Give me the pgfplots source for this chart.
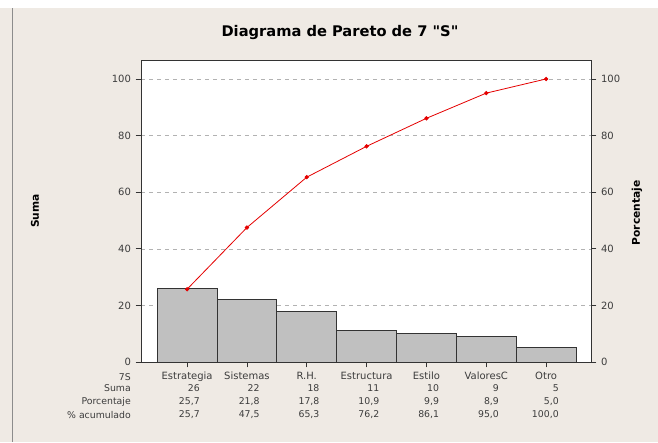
\documentclass[border=0pt]{standalone}
\usepackage{pgfplots}
\pgfplotsset{compat=1.18}
\usepackage{fontspec}
\setmainfont{DejaVu Sans}
\newfontfamily\titlefont{DejaVu Sans}
\definecolor{bgc}{RGB}{239,234,228}
\definecolor{barc}{RGB}{192,192,192}
\definecolor{txt}{RGB}{60,60,60}
\begin{document}
\begin{tikzpicture}[x=0.75pt,y=0.75pt]
\fill[bgc] (0,0) rectangle (658,442);
\fill[white] (0,434) rectangle (658,442);
\draw[black!45, line width=0.6pt] (12.5,0) -- (12.5,434);
\begin{axis}[
  at={(105.75pt,60pt)}, anchor=south west,
  scale only axis, width=337.5pt, height=226.5pt,
  xmin=-0.77, xmax=6.75, ymin=0, ymax=106.7,
  xtick={0,1,2,3,4,5,6},
  xticklabels={Estrategia,Sistemas,R.H.,Estructura,Estilo,ValoresC,Otro},
  ytick={0,20,40,60,80,100},
  tick pos=left, tick align=outside,
  major tick length=4pt,
  tick style={black!80, line width=0.5pt},
  axis line style={black!80, line width=0.6pt},
  axis background/.style={fill=white},
  ymajorgrids, grid style={dashed, black!30, line width=0.4pt},
  /pgf/number format/assume math mode=true,
  ticklabel style={font=\fontsize{7.5}{9}\selectfont, text=txt},
  xticklabel style={yshift=0pt},
  clip=false,
]
\addplot[ybar, bar width=1, fill=barc, draw=black!80, line width=0.6pt]
  coordinates {(0,26) (1,22) (2,18) (3,11) (4,10) (5,9) (6,5)};
\end{axis}
\begin{axis}[
  at={(105.75pt,60pt)}, anchor=south west,
  scale only axis, width=337.5pt, height=226.5pt,
  xmin=-0.77, xmax=6.75, ymin=0, ymax=106.7,
  axis x line=none, axis y line*=right,
  ytick={0,20,40,60,80,100},
  tick align=outside, major tick length=4pt,
  tick style={black!80, line width=0.5pt},
  axis line style={black!80, line width=0.6pt},
  /pgf/number format/assume math mode=true,
  ticklabel style={font=\fontsize{7.5}{9}\selectfont, text=txt},
  clip=false,
]
\addplot[red!90!black, line width=0.6pt, mark=*, mark size=1.3pt, mark options={fill=red!90!black}]
  coordinates {(0,25.7) (1,47.5) (2,65.3) (3,76.2) (4,86.1) (5,95.0) (6,100.0)};
\end{axis}
% title and axis labels
\node[font=\titlefont\bfseries\fontsize{11}{13}\selectfont] at (340,409) {Diagrama de Pareto de 7 "S"};
\node[font=\bfseries\fontsize{8}{10}\selectfont, rotate=90] at (35,231) {Suma};
\node[font=\bfseries\fontsize{8}{10}\selectfont, rotate=90] at (637,229) {Porcentaje};
% table
\begin{scope}[every node/.style={font=\fontsize{7}{8}\selectfont, text=txt, inner sep=0pt, anchor=east}]
\node at (131,65.3) {7S};
\node at (131,54) {Suma};
\node at (131,40.3) {Porcentaje};
\node at (131,27) {\% acumulado};
\foreach \i/\s/\p/\a in {0/26/{25,7}/{25,7}, 1/22/{21,8}/{47,5}, 2/18/{17,8}/{65,3}, 3/11/{10,9}/{76,2}, 4/10/{9,9}/{86,1}, 5/9/{8,9}/{95,0}, 6/5/{5,0}/{100,0}} {
  \pgfmathsetmacro{\xx}{187+59.83*\i+13}
  \node at (\xx,54) {\s};
  \node at (\xx,40.3) {\p};
  \node at (\xx,27) {\a};
}
\end{scope}
\end{tikzpicture}
\end{document}
